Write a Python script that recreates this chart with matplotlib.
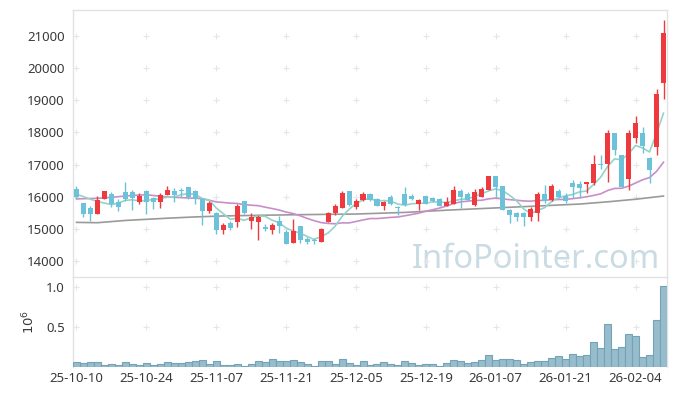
import numpy as np
import pandas as pd
import matplotlib
matplotlib.use("Agg")
import matplotlib.pyplot as plt

plt.rcParams['font.family'] = ['Noto Sans', 'DejaVu Sans']

# trading days, 10-day tick labels
tick_labels = ["25-10-10", "25-10-24", "25-11-07", "25-11-21", "25-12-05",
               "25-12-19", "26-01-07", "26-01-21", "26-02-04"]

opens = [16240, 15800, 15660, 15470, 15940, 16090, 15830, 16140, 16140, 15830,
         16180, 15970, 15830, 16060, 16190, 16200, 16290, 16190, 15930, 15565,
         15480, 14975, 15180, 15220, 15870, 15245, 15225, 15070, 14965, 15245,
         14900, 14570, 15090, 14680, 14660, 14600, 15220, 15500, 15660, 16180,
         15670, 15900, 16080, 15920, 15720, 16000, 15670, 16080, 16020, 15780,
         16020, 15950, 15930, 15720, 15780, 16180, 16080, 15740, 16000, 16210,
         16640, 16330, 15600, 15500, 15500, 15360, 15480, 16080, 15900, 16180,
         16020, 16440, 16400, 16380, 16440, 17030, 17020, 17970, 17300, 16550,
         17840, 17970, 17200, 17560, 19530]
highs = [16340, 15800, 15720, 16030, 16190, 16150, 15930, 16460, 16200, 16100,
         16200, 16000, 16100, 16330, 16260, 16260, 16300, 16200, 15950, 15850,
         15520, 15180, 15230, 15780, 15870, 15500, 15420, 15140, 15190, 15400,
         14960, 15300, 15100, 14760, 14720, 15040, 15530, 15780, 16180, 16180,
         15930, 16150, 16100, 15960, 15880, 16040, 15700, 16290, 16080, 15930,
         16030, 15990, 15950, 15980, 16340, 16250, 16150, 16230, 16300, 16650,
         16650, 16330, 15620, 15520, 15520, 15690, 16150, 16350, 16380, 16250,
         16100, 16520, 16480, 16470, 17300, 17300, 18070, 17980, 17300, 18070,
         18500, 18160, 17220, 19340, 21500]
lows = [15960, 15380, 15230, 15460, 15940, 15680, 15560, 15850, 15600, 15760,
        15460, 15620, 15650, 16050, 15830, 16000, 15930, 15780, 15120, 15500,
        14830, 14840, 14970, 15060, 15450, 15000, 14640, 14930, 14840, 14860,
        14540, 14560, 14550, 14520, 14530, 14580, 15200, 15420, 15650, 15720,
        15620, 15870, 15850, 15700, 15600, 15740, 15430, 15720, 15900, 15570,
        15760, 15820, 15700, 15700, 15760, 15640, 15880, 15700, 15990, 16200,
        16000, 15580, 15170, 15250, 15090, 15250, 15250, 15800, 15880, 15950,
        15800, 15950, 15950, 16100, 16350, 16860, 16470, 17300, 16290, 16200,
        17660, 17370, 16420, 17300, 19030]
closes = [15980, 15470, 15470, 15900, 16180, 15760, 15680, 15920, 15970, 16020,
          15820, 15830, 16050, 16210, 16050, 16180, 15990, 15930, 15560, 15795,
          14960, 15120, 15040, 15720, 15480, 15380, 15380, 14980, 15120, 15090,
          14540, 14930, 14650, 14600, 14620, 14990, 15480, 15710, 16120, 15740,
          15870, 16080, 15900, 15720, 15830, 15760, 15640, 15740, 15930, 15900,
          15780, 15850, 15720, 15830, 16200, 15990, 15900, 16140, 16240, 16640,
          16300, 15600, 15420, 15380, 15380, 15610, 16080, 15850, 16330, 15990,
          15880, 16290, 16260, 16460, 17020, 16990, 17970, 17450, 16300, 17970,
          18280, 17580, 16830, 19200, 21100]
volumes = [0.062, 0.054, 0.062, 0.062, 0.030, 0.037, 0.030, 0.062, 0.037, 0.025,
           0.050, 0.030, 0.037, 0.062, 0.050, 0.050, 0.062, 0.080, 0.090, 0.037,
           0.080, 0.025, 0.025, 0.037, 0.010, 0.037, 0.075, 0.062, 0.100, 0.080,
           0.080, 0.087, 0.062, 0.037, 0.010, 0.075, 0.075, 0.037, 0.100, 0.050,
           0.025, 0.075, 0.025, 0.037, 0.060, 0.037, 0.025, 0.075, 0.050, 0.025,
           0.037, 0.037, 0.010, 0.050, 0.087, 0.075, 0.050, 0.060, 0.087, 0.150,
           0.087, 0.100, 0.100, 0.087, 0.037, 0.060, 0.075, 0.075, 0.110, 0.140,
           0.100, 0.160, 0.140, 0.150, 0.310, 0.235, 0.540, 0.220, 0.250, 0.410,
           0.390, 0.125, 0.150, 0.590, 1.008]

# moving averages: values read from the chart where the window is not full
ma5_head = [16080, 16000, 15920, 15850]
ma20_head_idx = [0, 3, 5, 8, 10, 13, 16, 18]
ma20_head = [15930, 15950, 15980, 16040, 16060, 15990, 15960, 15940]
ma60_idx = [0, 3, 7, 13, 17, 21, 26, 32, 40, 47, 53, 58, 66, 72, 76, 80, 84]
ma60 = [15200, 15190, 15260, 15330, 15370, 15400, 15420, 15440, 15460, 15510,
        15580, 15630, 15710, 15770, 15840, 15920, 16020]

n = len(closes)
x = np.arange(n)
cl = pd.Series(closes, dtype=float)
ma5_full = cl.rolling(5).mean().values
ma5_full[:4] = ma5_head
ma20_roll = cl.rolling(20).mean().values
ma20_x = list(ma20_head_idx) + list(range(19, n))
ma20_y = list(ma20_head) + list(ma20_roll[19:])

UP = '#ee3a3f'
DOWN = '#6cc2d9'
SPINE = '#e2e2e2'
TXT = '#3a3a3a'

fig = plt.figure(figsize=(6.77, 3.96), dpi=100)
ax = fig.add_axes([73 / 677, 1 - 277 / 396, 594 / 677, 267 / 396])
axv = fig.add_axes([73 / 677, 1 - 367 / 396, 594 / 677, 90 / 396], sharex=ax)

ax.plot(ma60_idx, ma60, color='#9a9a9a', lw=1.2, zorder=2)
ax.plot(ma20_x, ma20_y, color='#c98ec9', lw=1.2, zorder=2)
ax.plot(x, ma5_full, color='#93d3c8', lw=1.2, zorder=2)

for i in range(n):
    o, h, l, c = opens[i], highs[i], lows[i], closes[i]
    col = UP if c >= o else DOWN
    ax.vlines(i, l, h, color=col, lw=1, zorder=3)
    ax.bar(i, max(abs(c - o), 15), bottom=min(o, c), width=0.72, color=col,
           linewidth=0, zorder=4)

ax.set_xlim(-0.5, n - 0.5)
ax.set_ylim(13500, 21810)
yt = np.arange(14000, 21001, 1000)
ax.set_yticks(yt)
ax.set_yticklabels([str(v) for v in yt])
xt = np.arange(0, n, 10)
ax.tick_params(axis='x', labelbottom=False, length=0)
ax.tick_params(axis='y', length=0, labelsize=9.5, colors=TXT, pad=6)

xx, yy = np.meshgrid(xt, yt)
ax.scatter(xx.ravel(), yy.ravel(), marker='+', s=20, color='#e6e6e6', lw=0.8, zorder=1)

ax.text(0.988, 0.034, "InfoPointer.com", transform=ax.transAxes, ha='right', va='baseline',
        fontsize=23.5, color='#c9dbe3', zorder=0)

axv.bar(x, volumes, width=1.0, color='#97bccc', edgecolor='#74a3b8', linewidth=0.8, zorder=3)
axv.set_ylim(0, 1.125)
axv.set_yticks([0.5, 1.0])
axv.set_yticklabels(['0.5', '1.0'])
axv.set_xticks(xt)
axv.set_xticklabels(tick_labels)
axv.tick_params(axis='both', length=0, labelsize=9.5, colors=TXT)
axv.tick_params(axis='y', pad=6)
axv.set_ylabel('$10^6$', fontsize=9.5, color=TXT, labelpad=6)
vx, vy = np.meshgrid(xt, [0.5, 1.0])
axv.scatter(vx.ravel(), vy.ravel(), marker='+', s=20, color='#e6e6e6', lw=0.8, zorder=1)

for a in (ax, axv):
    for s in a.spines.values():
        s.set_color(SPINE)
        s.set_linewidth(1)
ax.spines['bottom'].set_visible(False)
axv.spines['bottom'].set_visible(False)

fig.savefig('out.png', dpi=100)
